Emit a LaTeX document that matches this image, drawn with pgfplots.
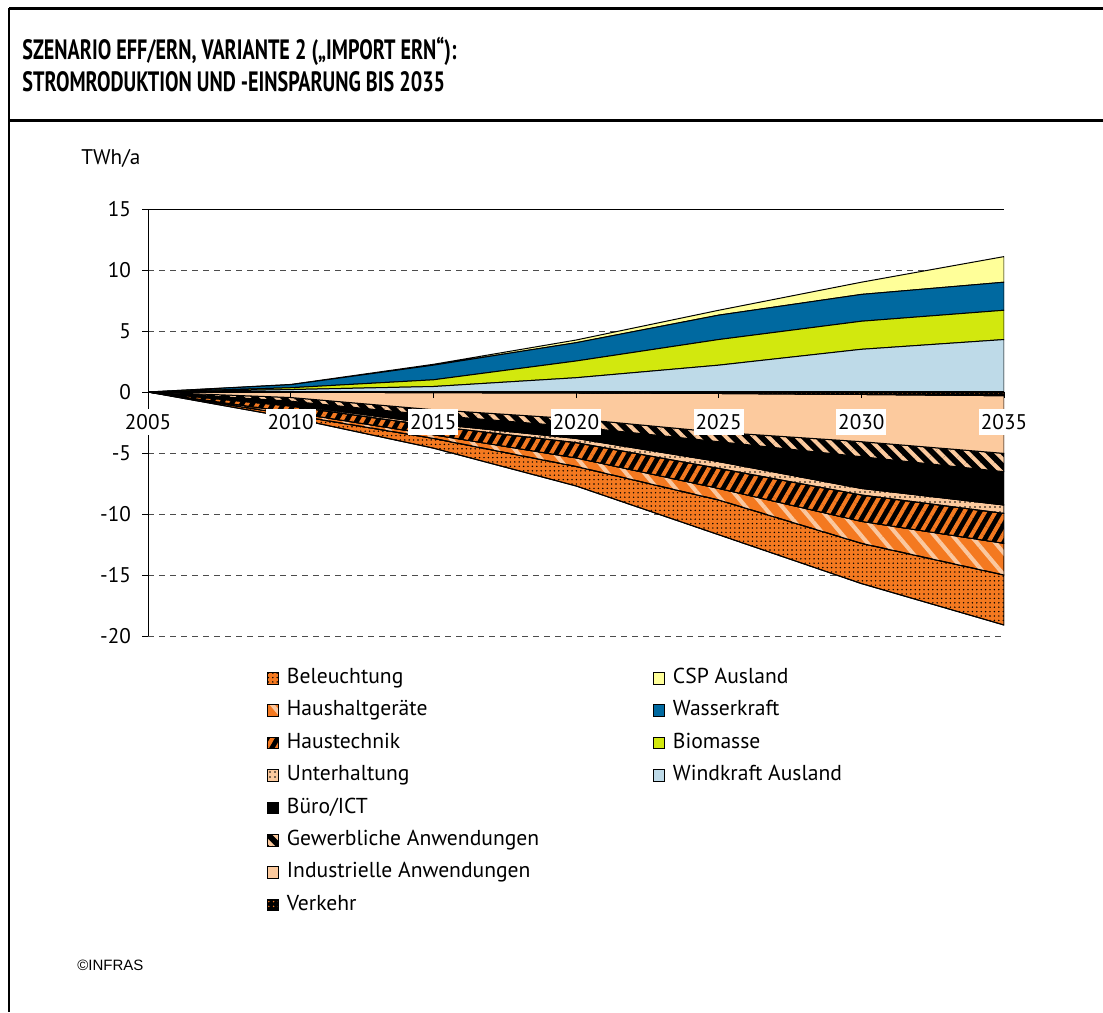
\documentclass[border=0pt]{standalone}
\usepackage{fontspec}
\setmainfont{PT Sans}
\newfontfamily\titlefont[FakeStretch=0.72]{PT Sans}
\newfontfamily\arialfont{Liberation Sans}
\usepackage{pgfplots}
\pgfplotsset{compat=1.18}
\usepackage{pgfplotstable}
\usetikzlibrary{patterns.meta}

\definecolor{orangeE}{RGB}{244,121,32}
\definecolor{peach}{RGB}{252,202,158}
\definecolor{peachlight}{RGB}{250,200,160}
\definecolor{cspyellow}{RGB}{255,255,153}
\definecolor{wasserblue}{RGB}{0,105,160}
\definecolor{biogreen}{RGB}{210,232,14}
\definecolor{windblue}{RGB}{190,218,232}

% production (positive stack), TWh/a
\pgfplotstableread{
year wind bio wasser csp
2005 0    0    0    0
2010 0.20 0.15 0.25 0.02
2015 0.45 0.55 1.20 0.07
2020 1.17 1.37 1.50 0.22
2025 2.20 2.10 2.00 0.40
2030 3.50 2.30 2.20 1.00
2035 4.30 2.40 2.30 2.10
}\prodtable

% savings (negative stack), TWh/a
\pgfplotstableread{
year ver   ind   gew   buero unt   htech hhg   bel
2005 0     0     0     0     0     0     0     0
2010 -0.02 -0.43 -0.30 -0.30 -0.10 -0.50 -0.20 -0.25
2015 -0.05 -1.40 -0.45 -0.70 -0.20 -0.70 -0.30 -0.80
2020 -0.08 -2.12 -0.65 -0.95 -0.35 -1.25 -0.70 -1.60
2025 -0.12 -3.18 -0.77 -1.63 -0.56 -1.64 -0.95 -2.85
2030 -0.20 -3.87 -1.23 -2.60 -0.54 -2.16 -1.80 -3.30
2035 -0.30 -4.73 -1.50 -2.73 -0.69 -2.45 -2.60 -4.10
}\spartable

\pgfplotsset{
  base/.style={scale only axis, width=428pt, height=213.5pt,
    xmin=2005, xmax=2035, ymin=-20, ymax=15,
    at={(74pt,-318pt)}, anchor=south west,
    /pgf/number format/assume math mode=true,
    /pgf/number format/1000 sep={},
    tick label style={font=\fontsize{10.6}{12}\selectfont},
    tick align=outside, major tick length=3pt,
    legend cell align=left, reverse legend,
    legend style={draw=none, fill=none, anchor=north west,
      font=\fontsize{10.8}{12}\selectfont, row sep=7pt,
      nodes={inner sep=0pt, text height=7.2pt, text depth=2pt},
      /tikz/every odd column/.append style={column sep=4pt}},
  },
  ar/.style={draw=black, line width=0.5pt},
}

\begin{document}
\begin{tikzpicture}
\path[use as bounding box] (0,0) rectangle (551.5pt,-506pt);

% frame and title
\draw[line width=1.5pt] (4.5pt,-4pt) -- (551.5pt,-4pt);
\draw[line width=1pt] (4.5pt,-4pt) -- (4.5pt,-506pt);
\draw[line width=1.5pt] (4.5pt,-60pt) -- (551.5pt,-60pt);
\node[anchor=base west, inner sep=0pt, font=\titlefont\bfseries\fontsize{14}{16}\selectfont]
  at (11pt,-29.5pt) {SZENARIO EFF/ERN, VARIANTE 2 („IMPORT ERN“):};
\node[anchor=base west, inner sep=0pt, font=\titlefont\bfseries\fontsize{14}{16}\selectfont]
  at (11pt,-45.5pt) {STROMRODUKTION UND -EINSPARUNG BIS 2035};
\node[anchor=west, inner sep=0pt, font=\fontsize{10.6}{12}\selectfont] at (40.5pt,-79pt) {TWh/a};
\node[anchor=west, inner sep=0pt, font=\arialfont\fontsize{7.5}{9}\selectfont] at (38.5pt,-482.5pt) {©INFRAS};

% production
\begin{axis}[base, stack plots=y,
  hide x axis,
  axis y line*=left,
  y axis line style={line width=0.5pt},
  ytick={-20,-15,...,15},
  ytick style={black, line width=0.5pt},
  yticklabel style={xshift=-2pt},
  ymajorgrids,
  grid style={black!70, dash pattern=on 3pt off 2.5pt, line width=0.5pt},
  extra y ticks={15}, extra y tick labels={},
  extra y tick style={grid style={solid, black, line width=0.5pt}},
  legend image code/.code={\draw[#1,line width=0.4pt] (0pt,-2.9pt) rectangle (5.8pt,2.9pt);},
  legend style={at={(0.582,-0.067)}},
]
\addplot[ar, fill=windblue] table[x=year, y=wind] {\prodtable} \closedcycle;
\addlegendentry{Windkraft Ausland}
\addplot[ar, fill=biogreen] table[x=year, y=bio] {\prodtable} \closedcycle;
\addlegendentry{Biomasse}
\addplot[ar, fill=wasserblue] table[x=year, y=wasser] {\prodtable} \closedcycle;
\addlegendentry{Wasserkraft}
\addplot[ar, fill=cspyellow] table[x=year, y=csp] {\prodtable} \closedcycle;
\addlegendentry{CSP Ausland}
\end{axis}

% savings
\begin{axis}[base, stack plots=y, axis on top,
  hide y axis,
  axis x line*=middle,
  x axis line style={line width=1.2pt},
  xtick={2005,2010,...,2035},
  hide obscured x ticks=false,
  xtick style={black, line width=0.5pt},
  xticklabel style={fill=white, inner xsep=1pt, inner ysep=2.5pt, yshift=-5.5pt},
  legend image code/.code={\draw[#1,line width=0.4pt] (0pt,-2.9pt) rectangle (5.8pt,2.9pt);},
  legend style={at={(0.131,-0.067)}},
]
\addplot[ar, fill=black, postaction={pattern={Dots[radius=0.4pt,distance=2.4pt]}, pattern color=orangeE}]
  table[x=year, y=ver] {\spartable} \closedcycle;
\addlegendentry{Verkehr}
\addplot[ar, fill=peach] table[x=year, y=ind] {\spartable} \closedcycle;
\addlegendentry{Industrielle Anwendungen}
\addplot[ar, fill=black, postaction={pattern={Lines[angle=-45,distance=5pt,line width=2pt]}, pattern color=peach}]
  table[x=year, y=gew] {\spartable} \closedcycle;
\addlegendentry{Gewerbliche Anwendungen}
\addplot[ar, fill=black] table[x=year, y=buero] {\spartable} \closedcycle;
\addlegendentry{Büro/ICT}
\addplot[ar, fill=peach, postaction={pattern={Dots[radius=0.4pt,distance=2.5pt]}, pattern color=black}]
  table[x=year, y=unt] {\spartable} \closedcycle;
\addlegendentry{Unterhaltung}
\addplot[ar, fill=black, postaction={pattern={Lines[angle=60,distance=4.5pt,line width=2pt]}, pattern color=orangeE}]
  table[x=year, y=htech] {\spartable} \closedcycle;
\addlegendentry{Haustechnik}
\addplot[ar, fill=orangeE, postaction={pattern={Lines[angle=-50,distance=7pt,line width=2pt]}, pattern color=peachlight}]
  table[x=year, y=hhg] {\spartable} \closedcycle;
\addlegendentry{Haushaltgeräte}
\addplot[ar, fill=orangeE, postaction={pattern={Dots[radius=0.4pt,distance=2.2pt]}, pattern color=black}]
  table[x=year, y=bel] {\spartable} \closedcycle;
\addlegendentry{Beleuchtung}
\end{axis}
\end{tikzpicture}
\end{document}
